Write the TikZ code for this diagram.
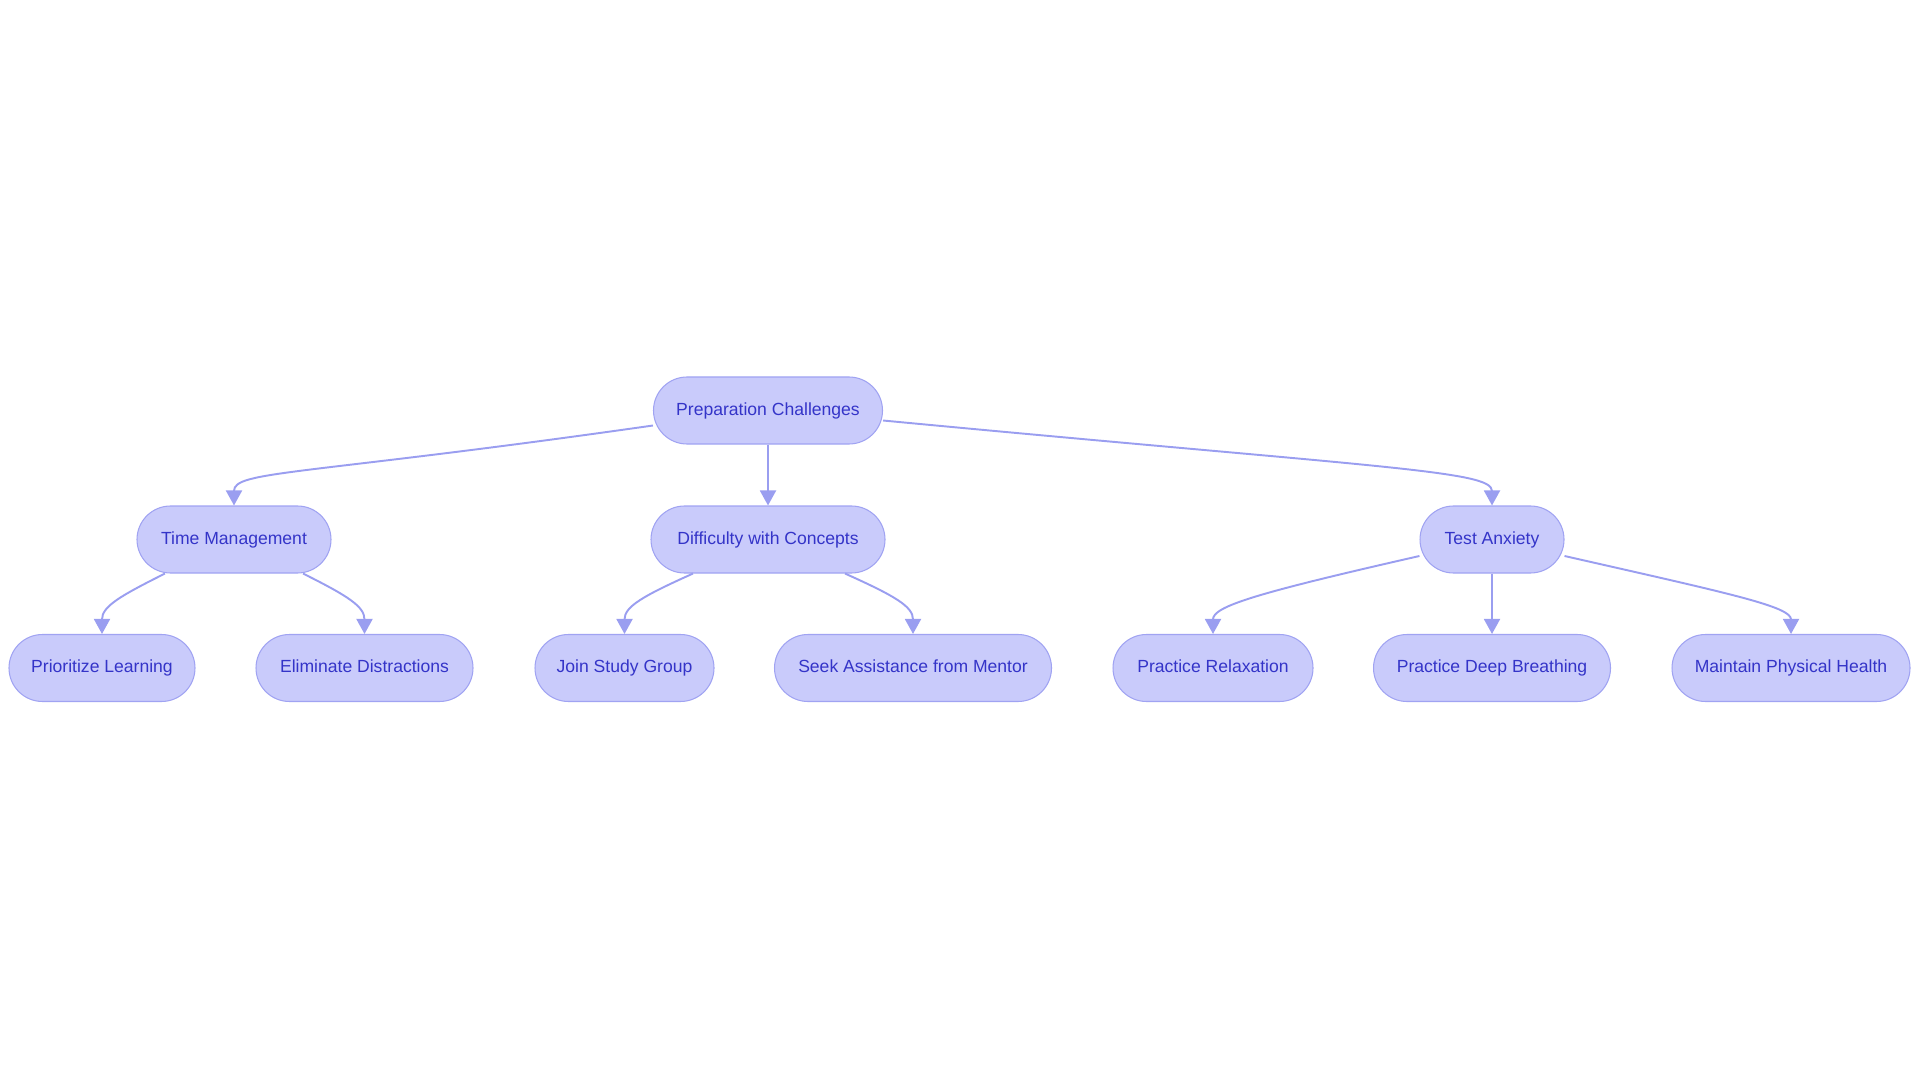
\documentclass[tikz,border=0pt]{standalone}
\usepackage{fontspec}
\setmainfont{Liberation Sans}
\usetikzlibrary{arrows.meta}
\definecolor{boxfill}{HTML}{C9CBFB}
\definecolor{boxline}{HTML}{A0A3F2}
\definecolor{boxtext}{HTML}{3434C8}
\definecolor{edgecol}{HTML}{9A9EF0}
\begin{document}
\begin{tikzpicture}[
    topic/.style={draw=boxline, fill=boxfill, line width=0.6pt, rounded corners=0.67cm, minimum height=1.34cm, inner sep=0pt, text height=0.72em, text depth=0.2em, text=boxtext, font=\fontsize{10}{12}\selectfont},
    arr/.style={-{Triangle[length=0.3cm, width=0.32cm]}, draw=edgecol, line width=1.1pt},
]
\useasboundingbox (0,0) rectangle (38.4,-21.66);

% Root
\node[topic, minimum width=4.58cm] (prep) at (15.36,-8.21) {Preparation Challenges};

% Second row
\node[topic, minimum width=3.88cm] (time) at (4.68,-10.79) {Time Management};
\node[topic, minimum width=4.68cm] (diff) at (15.36,-10.79) {Difficulty with Concepts};
\node[topic, minimum width=2.88cm] (anx)  at (29.84,-10.79) {Test Anxiety};

% Leaves
\node[topic, minimum width=3.72cm] (prio)   at (2.04,-13.36)  {Prioritize Learning};
\node[topic, minimum width=4.34cm] (elim)   at (7.29,-13.36)  {Eliminate Distractions};
\node[topic, minimum width=3.58cm] (join)   at (12.49,-13.36) {Join Study Group};
\node[topic, minimum width=5.54cm] (seek)   at (18.26,-13.36) {Seek Assistance from Mentor};
\node[topic, minimum width=4.0cm]  (relax)  at (24.26,-13.36) {Practice Relaxation};
\node[topic, minimum width=4.74cm] (breath) at (29.84,-13.36) {Practice Deep Breathing};
\node[topic, minimum width=4.76cm] (health) at (35.82,-13.36) {Maintain Physical Health};

% Edges
\draw[arr] ([yshift=-0.3cm]prep.west) .. controls +(-7.0,-1.0) and +(0,0.7) .. (time.north);
\draw[arr] (prep.south) -- (diff.north);
\draw[arr] ([yshift=-0.2cm]prep.east) .. controls +(10.0,-0.95) and +(0,0.7) .. (anx.north);

\draw[arr] ([xshift=-1.38cm]time.south) .. controls +(-0.9,-0.45) and +(0,0.55) .. (prio.north);
\draw[arr] ([xshift=1.38cm]time.south) .. controls +(0.9,-0.45) and +(0,0.55) .. (elim.north);

\draw[arr] ([xshift=-1.5cm]diff.south) .. controls +(-1.0,-0.45) and +(0,0.55) .. (join.north);
\draw[arr] ([xshift=1.54cm]diff.south) .. controls +(1.0,-0.45) and +(0,0.55) .. (seek.north);

\draw[arr] ([yshift=-0.33cm]anx.west) .. controls +(-3.3,-0.75) and +(0,0.55) .. (relax.north);
\draw[arr] (anx.south) -- (breath.north);
\draw[arr] ([yshift=-0.33cm]anx.east) .. controls +(3.3,-0.75) and +(0,0.55) .. (health.north);

\end{tikzpicture}
\end{document}
